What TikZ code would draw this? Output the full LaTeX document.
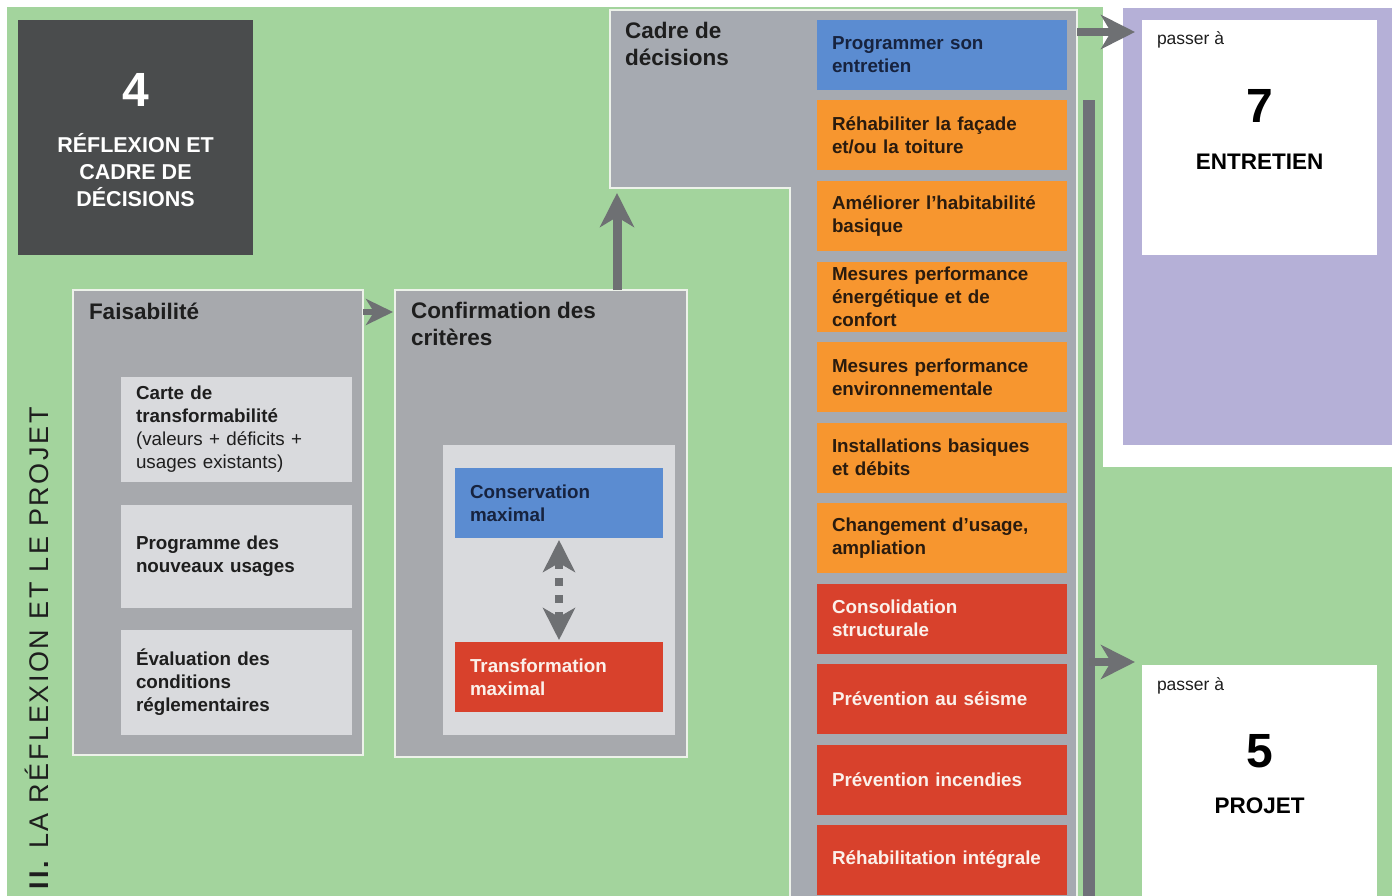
\documentclass[tikz,border=0pt]{standalone}
\usepackage{fontspec}
\setmainfont{Liberation Sans}
\usetikzlibrary{arrows.meta,calc}

\definecolor{leaf}{HTML}{A3D49D}
\definecolor{slate}{HTML}{4A4C4D}
\definecolor{panelgray}{HTML}{A7A9AD}
\definecolor{cadregray}{HTML}{A6AAB1}
\definecolor{paper}{HTML}{D9DADD}
\definecolor{rim}{HTML}{EDF2EA}
\definecolor{optblue}{HTML}{5B8CD1}
\definecolor{optorange}{HTML}{F7962F}
\definecolor{optred}{HTML}{D8412C}
\definecolor{lilac}{HTML}{B5B0D7}
\definecolor{flowgray}{HTML}{6E7073}
\definecolor{bargray}{HTML}{6F7078}
\definecolor{ink}{HTML}{1E1E1E}
\definecolor{navy}{HTML}{17233F}
\definecolor{umber}{HTML}{2A1B0E}
\definecolor{cream}{HTML}{FBF0EA}

\newcommand\fBody{\fontsize{18.8}{23}\selectfont\bfseries}
\newcommand\fBodyReg{\fontsize{18.8}{23}\selectfont\mdseries}
\newcommand\fTitle{\fontsize{22.5}{27}\selectfont\bfseries}
\newcommand\fStage{\fontsize{21.5}{27}\selectfont\bfseries}
\newcommand\fNum{\fontsize{48}{48}\selectfont\bfseries}
\newcommand\fSmall{\fontsize{17.5}{20}\selectfont}
\newcommand\fSide{\fontsize{27}{27}\selectfont\addfontfeatures{LetterSpace=9.5}}
\newcommand\topstrut{\rule{0pt}{1em}}

\begin{document}
\begin{tikzpicture}[x=1pt,y=-1pt,
  every node/.style={inner sep=0pt,outer sep=0pt},
  panel/.style={draw=rim,line width=1.5pt,fill=panelgray,anchor=north west},
  inbox/.style={fill=paper,text=ink,font=\fBody,text width=201pt,inner xsep=15pt,
    align=left,anchor=north west},
  opt/.style={text width=220pt,inner xsep=15pt,minimum height=70pt,align=left,
    anchor=north west,font=\fBody},
  optb/.style={opt,fill=optblue,text=navy},
  opto/.style={opt,fill=optorange,text=umber},
  optr/.style={opt,fill=optred,text=cream},
  choice/.style={text width=178pt,inner xsep=15pt,minimum height=70pt,align=left,
    anchor=north west,font=\fBody},
  title/.style={font=\fTitle,text=ink,align=left,anchor=north west},
  target/.style={fill=white,anchor=north west,minimum width=235pt},
  flow/.style={draw=flowgray,line width=9pt,
    -{Stealth[length=34pt,width=34pt,inset=10pt]}},
]
\useasboundingbox (0,0) rectangle (1392,896);

% backgrounds
\fill[white] (0,0) rectangle (1392,896);
\fill[leaf] (7,7) rectangle (1392,896);
\fill[white] (1103,0) rectangle (1392,467);
\fill[lilac] (1123,8) rectangle (1392,445);

% section label
\node[rotate=90,anchor=base west,font=\fSide,text=ink] (side) at (48,889)
  {\textbf{II.} LA RÉFLEXION ET LE PROJET};

% stage block
\node[fill=slate,anchor=north west,minimum width=235pt,minimum height=235pt] (stage) at (18,20) {};
\node[font=\fNum,text=white,anchor=base] (stagenum) at (135.5,107) {4};
\node[font=\fStage,text=white,align=center,anchor=north] (stagename) at (135.5,131.5)
  {\topstrut RÉFLEXION ET\\CADRE DE\\DÉCISIONS};

% feasibility panel
\node[panel,minimum width=290pt,minimum height=465pt] (faisa) at (73,290) {};
\node[font=\fTitle,text=ink,anchor=base west] (faisatitle) at (89,319) {Faisabilité};
\node[inbox,minimum height=105pt] (carte) at (121,377)
  {Carte de\\transformabilité\\{\fBodyReg(valeurs + déficits +}\\{\fBodyReg usages existants)}};
\node[inbox,minimum height=103pt] (prog) at (121,505) {Programme des\\nouveaux usages};
\node[inbox,minimum height=105pt] (eval) at (121,630)
  {Évaluation des\\conditions\\réglementaires};

% criteria panel
\node[panel,minimum width=292pt,minimum height=467pt] (confirm) at (395,290) {};
\node[title] (confirmtitle) at (411,295.5) {\topstrut Confirmation des\\critères};
\node[fill=paper,anchor=north west,minimum width=232pt,minimum height=290pt] (range) at (443,445) {};
\node[choice,fill=optblue,text=navy] (cons) at (455,468) {Conservation\\maximal};
\node[choice,fill=optred,text=cream] (trans) at (455,642) {Transformation\\maximal};

% decision frame
\path[draw=rim,line width=1.5pt,fill=cadregray]
  (610,10) -- (1077,10) -- (1077,900) -- (790,900) -- (790,188) -- (610,188) -- cycle;
\node[title] (cadretitle) at (625,16.5) {\topstrut Cadre de\\décisions};
\coordinate (cadrebase) at (617,188);
\coordinate (cadreright) at (1077,32);

\node[optb] (o1) at (817,20) {Programmer son\\entretien};
\node[opto] (o2) at (817,100.5) {Réhabiliter la façade\\et/ou la toiture};
\node[opto] (o3) at (817,181) {Améliorer l’habitabilité\\basique};
\node[opto] (o4) at (817,261.5) {Mesures performance\\énergétique et de\\confort};
\node[opto] (o5) at (817,342) {Mesures performance\\environnementale};
\node[opto] (o6) at (817,422.5) {Installations basiques\\et débits};
\node[opto] (o7) at (817,503) {Changement d’usage,\\ampliation};
\node[optr] (o8) at (817,583.5) {Consolidation\\structurale};
\node[optr] (o9) at (817,664) {Prévention au séisme};
\node[optr] (o10) at (817,744.5) {Prévention incendies};
\node[optr] (o11) at (817,825) {Réhabilitation intégrale};

% collector bar
\node[fill=bargray,anchor=north west,minimum width=12pt,minimum height=800pt] (bar) at (1083,100) {};
\coordinate (tap) at (1089,662);

% next steps
\node[target,minimum height=235pt] (entretien) at (1142,20) {};
\node[font=\fSmall,text=ink,anchor=base west] (entpass) at (1157,45) {passer à};
\node[font=\fNum,text=black,anchor=base] (entnum) at (1259.5,123) {7};
\node[font=\fTitle,text=black,anchor=base] (entname) at (1259.5,170) {ENTRETIEN};

\node[target,minimum height=240pt] (projet) at (1142,665) {};
\node[font=\fSmall,text=ink,anchor=base west] (projpass) at (1157,690) {passer à};
\node[font=\fNum,text=black,anchor=base] (projnum) at (1259.5,767) {5};
\node[font=\fTitle,text=black,anchor=base] (projname) at (1259.5,813) {PROJET};

% connectors
\coordinate (tlevel) at (0,312);
\draw[draw=flowgray,line width=6pt,shorten >=2pt,
  -{Stealth[length=27pt,width=26pt,inset=8pt]}]
  (faisa.east |- tlevel) -- (confirm.west |- tlevel);
\draw[flow,shorten >=5pt] (confirm.north -| cadrebase) -- (cadrebase);
\draw[flow,line width=8pt,shorten >=7pt] (cadreright) -- (entretien.west |- cadreright);
\draw[flow,line width=8pt,shorten >=7pt] (tap) -- (projet.west |- tap);
\draw[draw=flowgray,line width=8pt,dash pattern=on 8pt off 9pt,shorten <=2pt,shorten >=2pt,
  {Stealth[length=32pt,width=32pt,inset=9pt]}-{Stealth[length=32pt,width=32pt,inset=9pt]}]
  (cons.south) -- (trans.north);
\end{tikzpicture}
\end{document}
